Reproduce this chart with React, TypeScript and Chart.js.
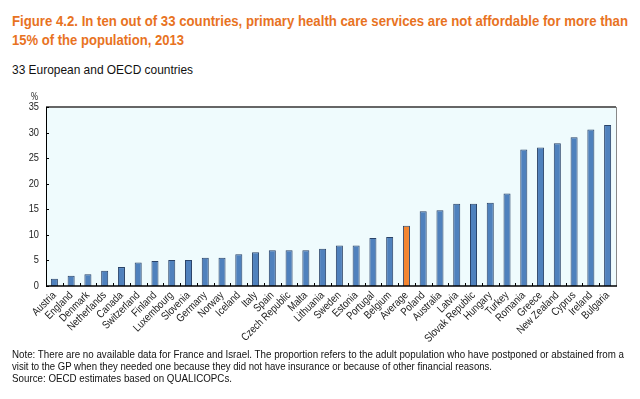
import React, { useEffect, useLayoutEffect, useRef } from "react";
import { Chart, registerables } from "chart.js";

Chart.register(...registerables);

const categories = [
  "Austria", "England", "Denmark", "Netherlands", "Canada", "Switzerland", "Finland",
  "Luxembourg", "Slovenia", "Germany", "Norway", "Iceland", "Italy", "Spain",
  "Czech Republic", "Malta", "Lithuania", "Sweden", "Estonia", "Portugal", "Belgium",
  "Average", "Poland", "Australia", "Latvia", "Slovak Republic", "Hungary", "Turkey",
  "Romania", "Greece", "New Zealand", "Cyprus", "Ireland", "Bulgaria",
];

const values = [
  1.4, 2.0, 2.3, 3.0, 3.7, 4.6, 4.9,
  5.1, 5.1, 5.5, 5.5, 6.2, 6.6, 7.0,
  7.0, 7.0, 7.3, 7.9, 7.9, 9.4, 9.6,
  11.8, 14.6, 14.8, 16.1, 16.1, 16.3, 18.1,
  26.7, 27.1, 27.9, 29.1, 30.6, 31.5,
];

const yTicks = [0, 5, 10, 15, 20, 25, 30, 35];

const titleLines = [
  "Figure 4.2. In ten out of 33 countries, primary health care services are not affordable for more than",
  "15% of the population, 2013",
];
const subtitle = "33 European and OECD countries";
const noteLines = [
  "Note: There are no available data for France and Israel. The proportion refers to the adult population who have postponed or abstained from a",
  "visit to the GP when they needed one because they did not have insurance or because of other financial reasons.",
  "Source: OECD estimates based on QUALICOPCs.",
];

const FONT = "'Liberation Sans', Arial, sans-serif";
const BLUE = "#4F81BD";
const ORANGE = "#F5852F";
const CONDENSE = 0.84;

function condenseLabels(scale: any) {
  if (scale._condensed) return;
  scale._condensed = true;
  const orig = scale.drawLabels.bind(scale);
  scale.drawLabels = (area: any) => {
    const ctx = scale.ctx;
    const f = ctx.fillText;
    ctx.fillText = function (t: string, x: number, y: number, mw?: number) {
      this.save();
      this.scale(CONDENSE, 1);
      if (mw === undefined) f.call(this, t, x / CONDENSE, y);
      else f.call(this, t, x / CONDENSE, y, mw / CONDENSE);
      this.restore();
    };
    try {
      orig(area);
    } finally {
      ctx.fillText = f;
    }
  };
}

const framePlugin = {
  id: "frame",
  beforeDraw(chart: any) {
    condenseLabels(chart.scales.x);
    condenseLabels(chart.scales.y);
  },
  beforeDatasetsDraw(chart: any) {
    const { ctx, chartArea: a } = chart;
    ctx.save();
    ctx.fillStyle = "#EFFBFD";
    ctx.fillRect(a.left, a.top, a.right - a.left, a.bottom - a.top);
    ctx.restore();
  },
  afterDatasetsDraw(chart: any) {
    const { ctx, chartArea: a } = chart;
    const x = chart.scales.x;
    const y = chart.scales.y;
    ctx.save();
    ctx.strokeStyle = "#666666";
    ctx.lineWidth = 2;
    ctx.beginPath();
    ctx.moveTo(a.left, a.top);
    ctx.lineTo(a.right, a.top);
    ctx.stroke();
    ctx.lineWidth = 1;
    ctx.strokeStyle = "#888888";
    ctx.beginPath();
    ctx.moveTo(a.right + 0.5, a.top);
    ctx.lineTo(a.right + 0.5, a.bottom);
    ctx.stroke();
    ctx.strokeStyle = "#000000";
    ctx.lineWidth = 1;
    ctx.beginPath();
    ctx.moveTo(a.left + 0.5, a.top);
    ctx.lineTo(a.left + 0.5, a.bottom);
    ctx.stroke();
    ctx.lineWidth = 1.5;
    ctx.beginPath();
    ctx.moveTo(a.left, a.bottom);
    ctx.lineTo(a.right + 1, a.bottom);
    ctx.stroke();
    ctx.lineWidth = 1;
    yTicks.forEach((v) => {
      const py = Math.round(y.getPixelForValue(v)) + 0.5;
      ctx.beginPath();
      ctx.moveTo(a.left, py);
      ctx.lineTo(a.left + 3, py);
      ctx.stroke();
    });
    const n = categories.length;
    const w = (x.getPixelForValue(n - 1) - x.getPixelForValue(0)) / (n - 1);
    for (let i = 1; i < n; i++) {
      const px = Math.round(x.getPixelForValue(i) - w / 2) + 0.5;
      ctx.beginPath();
      ctx.moveTo(px, a.bottom);
      ctx.lineTo(px, a.bottom - 3);
      ctx.stroke();
    }
    ctx.restore();
  },
};

function FitText(props: {
  text: string;
  left: number;
  right: number;
  cy: number;
  size: number;
  color: string;
  bold?: boolean;
}) {
  const ref = useRef<HTMLSpanElement>(null);
  useLayoutEffect(() => {
    const el = ref.current;
    if (!el) return;
    el.style.transform = "none";
    const w = el.getBoundingClientRect().width;
    const target = props.right - props.left;
    if (w > 0) el.style.transform = `scaleX(${target / w})`;
  }, [props.text, props.left, props.right]);
  const lh = Math.round(props.size * 1.2);
  return (
    <span
      ref={ref}
      style={{
        position: "absolute",
        left: props.left,
        top: props.cy - lh / 2,
        display: "inline-block",
        whiteSpace: "nowrap",
        fontFamily: FONT,
        fontSize: props.size,
        lineHeight: `${lh}px`,
        fontWeight: props.bold ? "bold" : "normal",
        color: props.color,
        transformOrigin: "0 50%",
      }}
    >
      {props.text}
    </span>
  );
}

export default function App() {
  const ref = useRef<HTMLCanvasElement>(null);

  useEffect(() => {
    if (!ref.current) return;
    const chart = new Chart(ref.current, {
      type: "bar",
      data: {
        labels: categories,
        datasets: [
          {
            data: values,
            backgroundColor: categories.map((c) => (c === "Average" ? ORANGE : BLUE)),
            borderColor: "#2A4368",
            borderWidth: 1,
            borderSkipped: "bottom",
            barPercentage: 0.84,
            categoryPercentage: 0.5,
          },
        ],
      },
      options: {
        animation: false,
        responsive: false,
        maintainAspectRatio: false,
        layout: { padding: { top: 107, right: 24, left: 0, bottom: 0 } },
        plugins: { legend: { display: false }, tooltip: { enabled: false }, title: { display: false } },
        scales: {
          x: {
            grid: { display: false, drawTicks: false },
            border: { display: false },
            ticks: {
              autoSkip: false,
              maxRotation: 45,
              minRotation: 45,
              padding: 3,
              color: "#222222",
              font: { family: FONT, size: 11 },
            },
            afterFit(scale: any) {
              scale.height = 113;
            },
          },
          y: {
            min: 0,
            max: 35,
            grid: { display: false, drawTicks: false },
            border: { display: false },
            ticks: {
              stepSize: 5,
              padding: 7,
              color: "#222222",
              font: { family: FONT, size: 11 },
            },
            afterFit(scale: any) {
              scale.width = 46;
            },
          },
        },
      },
      plugins: [framePlugin],
    });
    return () => chart.destroy();
  }, []);

  return (
    <div style={{ position: "fixed", left: 0, top: 0, width: 640, height: 399, background: "#fff", overflow: "hidden" }}>
      <FitText text={titleLines[0]} left={12} right={628} cy={21} size={15} color="#E8731F" bold />
      <FitText text={titleLines[1]} left={12} right={184} cy={40} size={15} color="#E8731F" bold />
      <FitText text={subtitle} left={12} right={193} cy={70} size={13.5} color="#111111" />
      <canvas ref={ref} width={640} height={399} style={{ position: "absolute", left: 0, top: 0 }} />
      <FitText text="%" left={31} right={38} cy={97} size={10} color="#222222" />
      <FitText text={noteLines[0]} left={12} right={624} cy={354} size={11.5} color="#111111" />
      <FitText text={noteLines[1]} left={12} right={492} cy={366} size={11.5} color="#111111" />
      <FitText text={noteLines[2]} left={12} right={232} cy={378} size={11.5} color="#111111" />
    </div>
  );
}
